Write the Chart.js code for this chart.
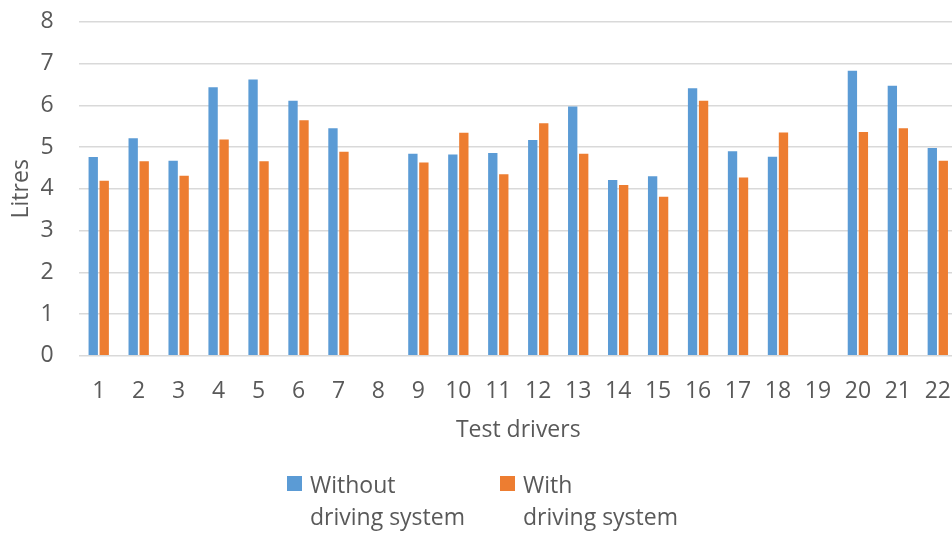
<!DOCTYPE html>
<html>
<head>
<meta charset="utf-8">
<script src="https://cdn.jsdelivr.net/npm/chart.js@4/dist/chart.umd.min.js"></script>
<style>
    html, body { margin: 0; padding: 0; background: #fff; overflow: hidden; }
    #wrap { position: relative; width: 973px; height: 534px; overflow: hidden; }
    #chart { position: absolute; left: 0; top: -17px; }
    #legend { position: absolute; left: 0; top: 0; font-family: 'Open Sans', sans-serif; font-size: 23px; color: #595959; }
    .item { position: absolute; top: 468px; line-height: 32px; white-space: nowrap; }
    .box { position: absolute; left: 0; top: 8px; width: 15px; height: 15px; }
    .txt { position: absolute; left: 23px; top: 0; }
</style>
</head>
<body>
<div id="wrap">
    <canvas id="chart" width="973" height="551"></canvas>
    <div id="legend"></div>
</div>
<script>
const drivers = ['1', '2', '3', '4', '5', '6', '7', '8', '9', '10', '11',
    '12', '13', '14', '15', '16', '17', '18', '19', '20', '21', '22'];
const withoutSystem = [4.76, 5.21, 4.67, 6.43, 6.62, 6.11, 5.45, null, 4.84, 4.82, 4.86,
    5.17, 5.97, 4.21, 4.30, 6.41, 4.90, 4.77, null, 6.83, 6.47, 4.98];
const withSystem = [4.19, 4.66, 4.31, 5.18, 4.66, 5.64, 4.89, null, 4.63, 5.34, 4.35,
    5.57, 4.84, 4.09, 3.81, 6.11, 4.27, 5.35, null, 5.36, 5.45, 4.67];
const seriesNames = [['Without', 'driving system'], ['With', 'driving system']];
const seriesColors = ['#5B9BD5', '#ED7D31'];

const textColor = '#595959';
const font = { family: "'Open Sans', sans-serif", size: 23 };

const chart = new Chart(document.getElementById('chart'), {
    type: 'bar',
    data: {
        labels: drivers,
        datasets: [
            { label: seriesNames[0].join(' '), data: withoutSystem, backgroundColor: seriesColors[0] },
            { label: seriesNames[1].join(' '), data: withSystem, backgroundColor: seriesColors[1] }
        ]
    },
    options: {
        responsive: false,
        animation: false,
        categoryPercentage: 0.55,
        barPercentage: 0.85,
        layout: { padding: { top: -7, right: 2, bottom: 90, left: 0 } },
        plugins: { legend: { display: false }, tooltip: { enabled: false } },
        scales: {
            x: {
                grid: { display: false, drawTicks: false },
                border: { display: false },
                ticks: { color: textColor, font: font, padding: 22, maxRotation: 0, autoSkip: false },
                title: { display: true, text: 'Test drivers', color: textColor, font: font, padding: { top: -11, bottom: 0 } }
            },
            y: {
                min: 0,
                max: 8,
                grid: { color: '#d9d9d9', lineWidth: 1.5, drawTicks: false },
                border: { display: false },
                ticks: { stepSize: 1, color: textColor, font: font, padding: 25 },
                title: { display: true, text: 'Litres', color: textColor, font: font, padding: { top: 8, bottom: -20 } }
            }
        }
    }
});

// two-line legend below the axis title
const legend = document.getElementById('legend');
const legendX = [287, 500];
chart.data.datasets.forEach((ds, i) => {
    const item = document.createElement('div');
    item.className = 'item';
    item.style.left = legendX[i] + 'px';
    item.innerHTML = `<span class="box" style="background:${ds.backgroundColor}"></span>` +
        `<span class="txt">${seriesNames[i].join('<br>')}</span>`;
    legend.appendChild(item);
});
</script>
</body>
</html>
